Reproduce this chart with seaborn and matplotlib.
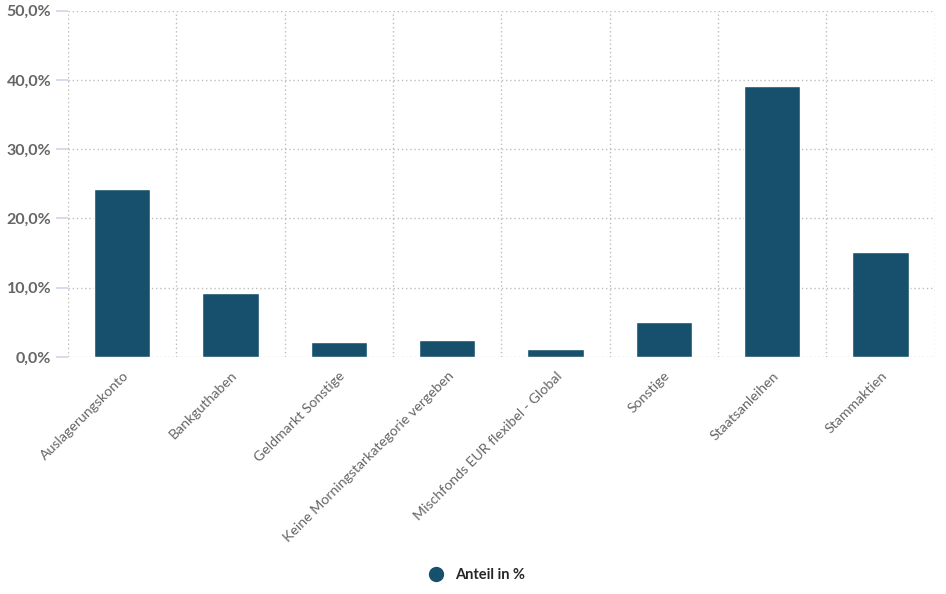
import matplotlib.pyplot as plt
from matplotlib.lines import Line2D
from matplotlib.ticker import FixedLocator
import seaborn as sns
import pandas as pd

categories = ["Auslagerungskonto", "Bankguthaben", "Geldmarkt Sonstige",
              "Keine Morningstarkategorie vergeben", "Mischfonds EUR flexibel - Global",
              "Sonstige", "Staatsanleihen", "Stammaktien"]
values = [24.2, 9.2, 2.1, 2.4, 1.2, 5.1, 39.1, 15.1]
y_ticks = [0, 10, 20, 30, 40, 50]
y_labels = ["0,0%", "10,0%", "20,0%", "30,0%", "40,0%", "50,0%"]
series_name = "Anteil in %"

bar_color = "#17506d"
grid_color = "#bdbdbd"
text_color = "#666666"

sns.set_theme(style="white")
plt.rcParams['font.family'] = ['Lato', 'DejaVu Sans']

fig = plt.figure(figsize=(9.46, 5.94), dpi=100)
ax = fig.add_axes([0.072, 0.399, 0.916, 0.583])

df = pd.DataFrame({"Kategorie": categories, "Anteil": values})
sns.barplot(data=df, x="Kategorie", y="Anteil", color=bar_color,
            width=0.52, saturation=1, ax=ax)

ax.set_xlim(-0.5, len(categories) - 0.5)
ax.set_ylim(0, 50)
ax.set_xlabel("")
ax.set_ylabel("")
for s in ax.spines.values():
    s.set_visible(False)

# grid: horizontal at ticks, vertical at category boundaries
ax.set_yticks(y_ticks)
ax.set_yticklabels(y_labels, fontsize=11.5, color=text_color, fontweight="bold")
ax.tick_params(axis="y", length=9, width=1.2, color="#ccd6eb", pad=3, left=True)
ax.xaxis.set_minor_locator(FixedLocator([i - 0.5 for i in range(len(categories) + 1)]))
ax.grid(axis="y", which="major", linestyle=(0, (1, 2)), color=grid_color, linewidth=1)
ax.grid(axis="x", which="minor", linestyle=(0, (1, 2)), color=grid_color, linewidth=1)
ax.tick_params(axis="x", which="both", length=0)

ax.set_xticks(range(len(categories)))
ax.set_xticklabels(categories, rotation=45, ha="right", rotation_mode="anchor",
                   fontsize=10.2, color=text_color)
ax.tick_params(axis="x", pad=9)

handle = Line2D([], [], marker="o", linestyle="", markersize=10,
                markerfacecolor=bar_color, markeredgecolor=bar_color)
fig.legend([handle], [series_name], loc="center", bbox_to_anchor=(0.50, 0.032),
           frameon=False, handletextpad=0.3,
           prop={"size": 10.5, "weight": "bold"})

fig.savefig("out.png", dpi=100)
